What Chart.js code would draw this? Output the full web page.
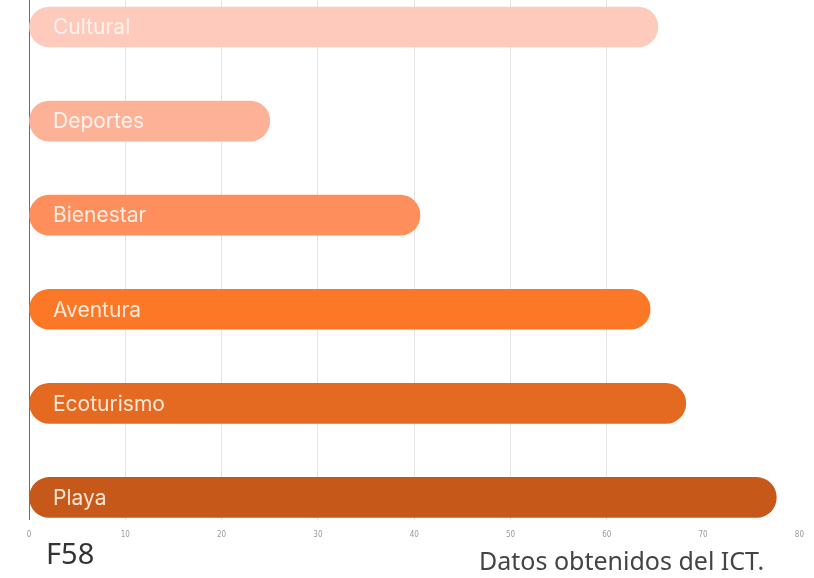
<!DOCTYPE html>
<html>
<head>
<meta charset="utf-8">
<script src="https://cdn.jsdelivr.net/npm/chart.js@4.4.1/dist/chart.umd.min.js"></script>
<style>
  html, body { margin: 0; padding: 0; background: #fff; }
  #wrap { position: relative; width: 814px; height: 578px; overflow: hidden; }
  #chart { position: absolute; left: 0; top: 0; }
  .note { position: absolute; font-family: "Noto Sans", sans-serif; white-space: nowrap; }
  #code { left: 46px; top: 533px; font-size: 29px; color: #333; }
  #source { left: 479px; top: 543px; font-size: 25px; color: #444; }
</style>
</head>
<body>
<div id="wrap">
  <canvas id="chart" width="814" height="578"></canvas>
  <div class="note" id="code">F58</div>
  <div class="note" id="source">Datos obtenidos del ICT.</div>
</div>
<script>
const categories = ['Cultural', 'Deportes', 'Bienestar', 'Aventura', 'Ecoturismo', 'Playa'];
const values = [65.3, 25, 40.6, 64.5, 68.2, 77.6];
const barColors = ['#fdcabb', '#fdb298', '#fe8e5c', '#fc7826', '#e46a22', '#c6591a'];
const labelColors = ['#fff3ee', '#fff3ee', '#fdeee4', '#fde9da', '#fde9da', '#fbe6d6'];
const xTicks = [0, 10, 20, 30, 40, 50, 60, 70, 80];

// category names drawn inside each bar
const insideLabels = {
  id: 'insideLabels',
  afterDatasetsDraw(chart) {
    const ctx = chart.ctx;
    const meta = chart.getDatasetMeta(0);
    ctx.save();
    ctx.font = '21px Inter, "Open Sans", sans-serif';
    ctx.textBaseline = 'middle';
    meta.data.forEach((bar, i) => {
      ctx.fillStyle = labelColors[i];
      ctx.fillText(categories[i], chart.chartArea.left + 24, bar.y + 1);
    });
    ctx.restore();
  }
};

new Chart(document.getElementById('chart'), {
  type: 'bar',
  data: {
    datasets: [{
      data: values.map((v, i) => ({ x: v, y: i })),
      backgroundColor: barColors,
      borderRadius: 20,
      borderSkipped: false,
      barThickness: 40
    }]
  },
  options: {
    indexAxis: 'y',
    responsive: false,
    animation: false,
    layout: { padding: { left: 29, right: 14, top: 0, bottom: 28 } },
    plugins: { legend: { display: false }, tooltip: { enabled: false } },
    scales: {
      x: {
        type: 'linear',
        min: 0,
        max: 80,
        afterBuildTicks: axis => { axis.ticks = xTicks.map(v => ({ value: v })); },
        border: { display: false },
        grid: {
          drawTicks: false,
          lineWidth: 1,
          color: c => c.tick && c.tick.value === 0 ? '#6b6b6b' : (c.tick && c.tick.value >= 70 ? 'rgba(0,0,0,0)' : '#e4e4e4')
        },
        ticks: {
          padding: 10,
          color: '#9a9a9a',
          font: { family: '"Liberation Sans Narrow", "DejaVu Sans Condensed", sans-serif', size: 8 }
        }
      },
      y: {
        type: 'linear',
        reverse: true,
        offset: false,
        min: -0.287,
        max: 5.244,
        display: false
      }
    }
  },
  plugins: [insideLabels]
});
</script>
</body>
</html>
